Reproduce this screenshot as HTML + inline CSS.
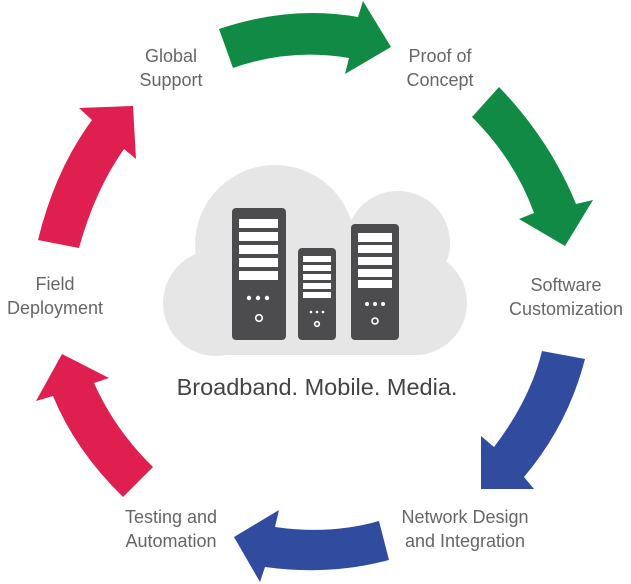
<!DOCTYPE html>
<html><head><meta charset="utf-8"><style>
html,body{margin:0;padding:0;background:#fff;}
svg{display:block;}
text{font-family:"Liberation Sans",sans-serif;}
</style></head><body>
<svg width="631" height="584" viewBox="0 0 631 584" xmlns="http://www.w3.org/2000/svg">
<!-- cloud -->
<g fill="#e6e6e6">
<circle cx="275" cy="245" r="80"/>
<circle cx="398" cy="243" r="52"/>
<circle cx="216" cy="303" r="53"/>
<circle cx="415" cy="303" r="52"/>
<rect x="216" y="250" width="200" height="105"/>
<rect x="190" y="300" width="250" height="55" rx="20"/>
</g>
<!-- servers -->
<g fill="#4c4c4e">
<rect x="232" y="208" width="54" height="132" rx="4"/>
<rect x="298" y="248" width="38" height="92" rx="4"/>
<rect x="351" y="224" width="48" height="116" rx="4"/>
</g>
<g fill="#fff">
<rect x="239" y="219" width="39" height="9"/><rect x="239" y="232" width="39" height="9"/><rect x="239" y="245" width="39" height="9"/><rect x="239" y="258" width="39" height="9"/><rect x="239" y="271" width="39" height="9"/>
<rect x="303" y="256" width="28" height="6"/><rect x="303" y="265" width="28" height="6"/><rect x="303" y="274" width="28" height="6"/><rect x="303" y="283" width="28" height="6"/><rect x="303" y="292" width="28" height="6"/>
<rect x="358" y="233" width="34" height="9"/><rect x="358" y="245" width="34" height="8"/><rect x="358" y="257" width="34" height="8"/><rect x="358" y="269" width="34" height="8"/><rect x="358" y="280" width="34" height="8"/>
<circle cx="249" cy="298" r="2.2"/><circle cx="258" cy="298" r="2.2"/><circle cx="267" cy="298" r="2.2"/>
<circle cx="311" cy="312" r="1.3"/><circle cx="317" cy="312" r="1.3"/><circle cx="323" cy="312" r="1.3"/>
<circle cx="367" cy="304" r="2"/><circle cx="375" cy="304" r="2"/><circle cx="383" cy="304" r="2"/>
</g>
<g fill="none" stroke="#fff" stroke-width="1.6">
<circle cx="259" cy="318" r="3.3"/><circle cx="317" cy="324" r="2.3"/><circle cx="375" cy="321" r="3"/>
</g>
<!-- arrows -->
<path fill="#118a45" d="M219,29 Q290,5 358,17 L363,1 L391,47 L345,74 L349,58 Q290,48 233,68 Z"/>
<path fill="#118a45" d="M499,87 Q550,140 576,204 L593,200 L565,246 L519,219 L534,213 Q515,160 472,117 Z"/>
<path fill="#314c9e" d="M585,359 Q568,425 524,477 L534,489 L481,489 L481,436 L494,447 Q530,400 542,351 Z"/>
<path fill="#314c9e" d="M389,560 Q330,576 265,567 L260,582 L234,537 L279,510 L275,527 Q330,535 379,521 Z"/>
<path fill="#df1f50" d="M123,497 Q75,450 53,396 L36,401 L62,354 L109,378 L94,383 Q115,430 153,467 Z"/>
<path fill="#df1f50" d="M38,240 Q55,170 92,120 L79,108 L133,106 L136,159 L124,149 Q95,190 79,248 Z"/>
<!-- labels -->
<g fill="#666" font-size="18" text-anchor="middle">
<text x="171" y="62">Global</text><text x="171" y="86">Support</text>
<text x="440" y="62">Proof of</text><text x="440" y="86">Concept</text>
<text x="566" y="291">Software</text><text x="566" y="315">Customization</text>
<text x="465" y="523">Network Design</text><text x="465" y="547">and Integration</text>
<text x="171" y="523">Testing and</text><text x="171" y="547">Automation</text>
<text x="55" y="290">Field</text><text x="55" y="314">Deployment</text>
</g>
<text x="317" y="395" fill="#444" font-size="23.5" text-anchor="middle">Broadband. Mobile. Media.</text>
</svg>
</body></html>
